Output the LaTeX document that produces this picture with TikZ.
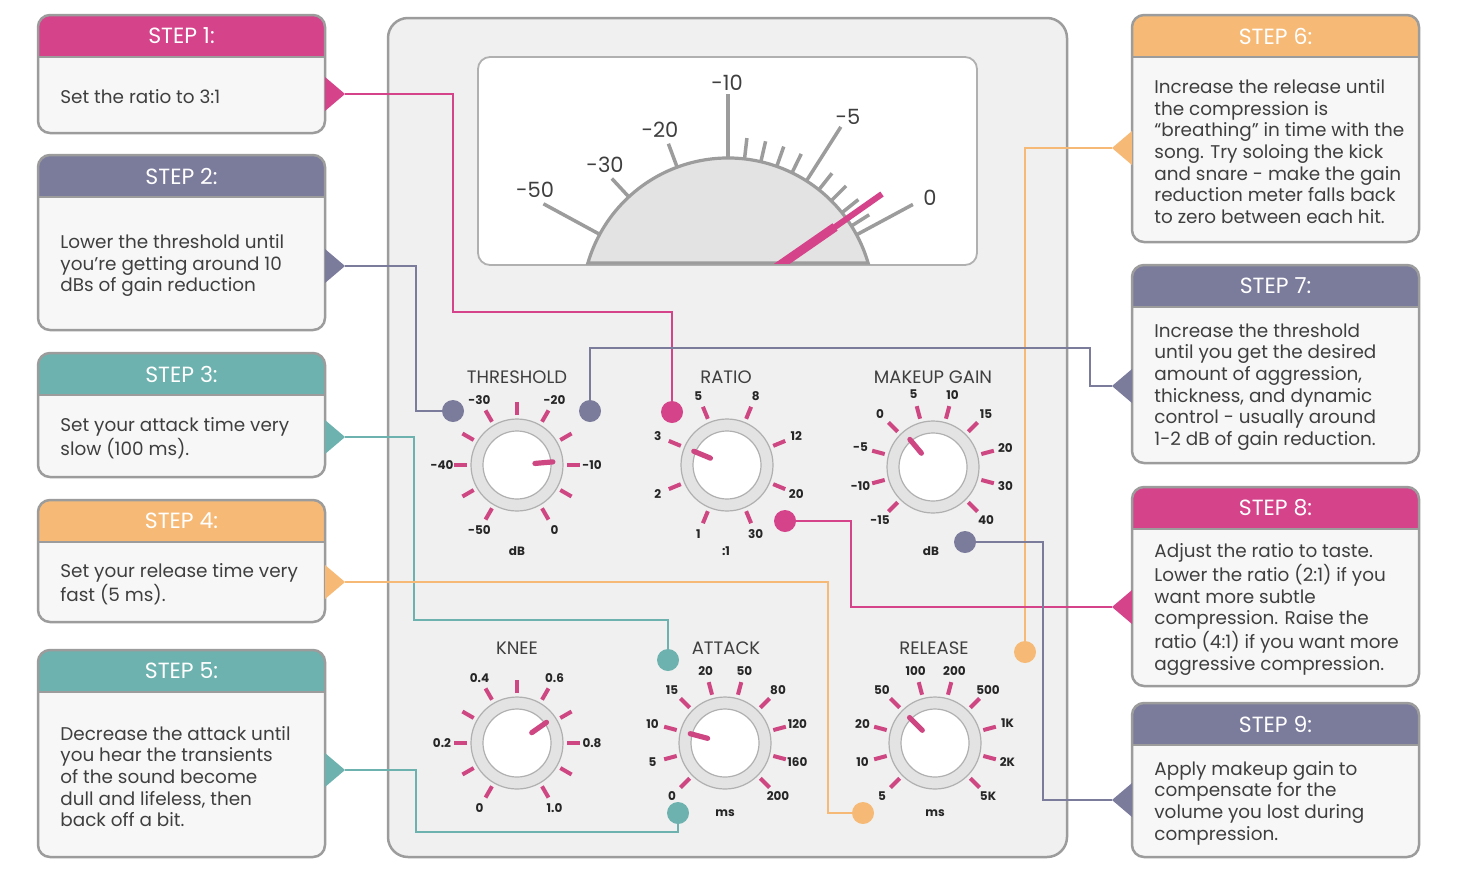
\documentclass[tikz,border=0pt]{standalone}
\usepackage{fontspec}
\setmainfont{Poppins}

\definecolor{stepPink}{HTML}{D5438B}
\definecolor{stepSlate}{HTML}{7B7B9C}
\definecolor{stepTeal}{HTML}{6DB2AE}
\definecolor{stepOrange}{HTML}{F6BA76}
\definecolor{frameGrey}{HTML}{9C9C9C}
\definecolor{panelGrey}{HTML}{F0F0F0}
\definecolor{cardFill}{HTML}{F7F7F7}
\definecolor{inkGrey}{HTML}{3F3F3F}
\definecolor{ringGrey}{HTML}{E3E3E3}
\definecolor{tickPink}{HTML}{CE4682}

% step card: name, left x, top y, bottom y, colour, number, text
\newcommand\stepcard[7]{%
	\fill[cardFill, rounded corners=6pt] (#2,#3) rectangle ({#2+287},#4);
	\begin{scope}
		\clip (#2,#3) rectangle ({#2+287},{#3+42});
		\fill[#5, rounded corners=6pt] (#2,#3) rectangle ({#2+287},#4);
	\end{scope}
	\draw[frameGrey, line width=1.1pt] (#2,{#3+42}) -- ({#2+287},{#3+42});
	\draw[frameGrey, line width=1.25pt, rounded corners=6pt] (#2,#3) rectangle ({#2+287},#4);
	\node[steptitle] at ({#2+143.5},{#3+21}) {STEP #6:};
	\node[steptext] (#1) at ({#2+22},{(#3+42+#4)/2+2}) {#7};
}

% knob: name, x, y, first angle, angle step, labels, hand angle
\newcommand\knob[7]{%
	\begin{scope}[shift={(#2,#3)}, y=0.5pt]
		\coordinate (#1) at (0,0);
		\foreach \lab [count=\i from 0] in {#6} {
			\pgfmathsetmacro\ang{#4-\i*#5}
			\draw[knobtick] (\ang:50) -- (\ang:63);
			\node[knobnum] at (\ang:75) {\lab};
		}
		\draw[frameGrey!80, fill=ringGrey, line width=0.6pt] (0,0) circle[radius=46];
		\draw[frameGrey!80, fill=white, line width=0.6pt] (0,0) circle[radius=34];
		\draw[knobhand] (#7:18) -- (#7:36);
	\end{scope}
}

\begin{document}
\begin{tikzpicture}[x=0.5pt, y=-0.5pt,
	steptitle/.style={font=\fontsize{11}{13}\selectfont, text=white},
	steptext/.style={anchor=west, align=left, inner sep=0pt, text=inkGrey, font=\fontsize{9.2}{10.85}\selectfont},
	wire/.style={line width=1.25pt},
	plug/.style={circle, fill=#1, inner sep=0pt, minimum size=11pt},
	knobtick/.style={tickPink, line width=2pt},
	knobnum/.style={font=\fontsize{6}{7}\selectfont\bfseries, text=black!85},
	knobhand/.style={tickPink, line width=2.6pt, line cap=round},
	knobtitle/.style={font=\fontsize{9}{11}\selectfont, text=inkGrey},
	metertick/.style={frameGrey, line width=1.75pt},
	meternum/.style={font=\fontsize{10.5}{12}\selectfont, text=inkGrey}]

	\fill[white] (0,0) rectangle (1460,873);
	\useasboundingbox (0,0) rectangle (1460,873);

	%panel
	\draw[frameGrey, fill=panelGrey, line width=1.25pt, rounded corners=10pt] (388,18) rectangle (1067,857);

	%meter
	\draw[frameGrey!80, fill=white, line width=0.9pt, rounded corners=6pt] (478,57) rectangle (977,265);
	\begin{scope}[shift={(728,304)}, y=0.5pt]
		\fill[ringGrey] (16.3:146) arc[start angle=16.3, end angle=163.7, radius=146] -- cycle;
		\foreach \a in {151.5,90,57.5,28.3}
			\draw[metertick] (\a:146) -- (\a:210);
		\foreach \a in {132.8,110.4}
			\draw[metertick] (\a:146) -- (\a:171);
		\foreach \a in {83.5,77,70.5,64,51.5,45,38.7,32.3}
			\draw[metertick] (\a:146) -- (\a:167);
		\draw[frameGrey, line width=1.6pt] (16.3:146) arc[start angle=16.3, end angle=163.7, radius=146] -- cycle;
	\end{scope}
	\begin{scope}
		\clip (478,57) rectangle (977,263);
		\draw[stepPink, line width=4.5pt] (776.4,267.6) -- (835,227);
		\draw[stepPink, line width=3pt] (834,227.7) -- (882,194);
	\end{scope}
	\node[meternum] at (535,190) {-50};
	\node[meternum] at (605,165) {-30};
	\node[meternum] at (660,130) {-20};
	\node[meternum] at (727,83) {-10};
	\node[meternum] at (848,117) {-5};
	\node[meternum] at (930,198) {0};

	%knobs
	\knob{thr}{517}{465}{240}{30}{-50,,-40,,-30,,-20,,-10,,0}{5}
	\knob{rat}{727}{465}{247.5}{45}{1,2,3,5,8,12,20,30}{157.5}
	\knob{mkg}{933}{467}{225}{30}{-15,-10,-5,0,5,10,15,20,30,40}{130}
	\knob{kne}{517}{743}{240}{30}{0,,0.2,,0.4,,0.6,,0.8,,1.0}{35}
	\knob{att}{725}{743}{225}{30}{0,5,10,15,20,50,80,120,160,200}{165}
	\knob{rel}{935}{743}{225}{30}{5,10,20,50,100,200,500,1K,2K,5K}{135}

	\node[knobtitle] at (517,377) {THRESHOLD};
	\node[knobtitle] at (726,377) {RATIO};
	\node[knobtitle] at (933,377) {MAKEUP GAIN};
	\node[knobtitle] at (517,648) {KNEE};
	\node[knobtitle] at (726,648) {ATTACK};
	\node[knobtitle] at (934,648) {RELEASE};
	\node[knobnum] at (517,551) {dB};
	\node[knobnum] at (726,551) {:1};
	\node[knobnum] at (931,551) {dB};
	\node[knobnum] at (725,813) {ms};
	\node[knobnum] at (935,813) {ms};

	%steps
	\stepcard{s1}{38}{15}{133}{stepPink}{1}{Set the ratio to 3:1}
	\stepcard{s2}{38}{155}{330}{stepSlate}{2}{Lower the threshold until\\you're getting around 10\\dBs of gain reduction}
	\stepcard{s3}{38}{353}{477}{stepTeal}{3}{Set your attack time very\\slow (100 ms).}
	\stepcard{s4}{38}{500}{622}{stepOrange}{4}{Set your release time very\\fast (5 ms).}
	\stepcard{s5}{38}{650}{857}{stepTeal}{5}{Decrease the attack until\\you hear the transients\\of the sound become\\dull and lifeless, then\\back off a bit.}
	\stepcard{s6}{1132}{15}{242}{stepOrange}{6}{Increase the release until\\the compression is\\“breathing” in time with the\\song. Try soloing the kick\\and snare - make the gain\\reduction meter falls back\\to zero between each hit.}
	\stepcard{s7}{1132}{265}{463}{stepSlate}{7}{Increase the threshold\\until you get the desired\\amount of aggression,\\thickness, and dynamic\\control - usually around\\1-2 dB of gain reduction.}
	\stepcard{s8}{1132}{487}{686}{stepPink}{8}{Adjust the ratio to taste.\\Lower the ratio (2:1) if you\\want more subtle\\compression. Raise the\\ratio (4:1) if you want more\\aggressive compression.}
	\stepcard{s9}{1132}{703}{857}{stepSlate}{9}{Apply makeup gain to\\compensate for the\\volume you lost during\\compression.}

	%pointers
	\foreach \n/\y/\c in {1/94/stepPink, 2/266/stepSlate, 3/437/stepTeal, 4/582/stepOrange, 5/770/stepTeal} {
		\fill[\c] (325,{\y-17}) -- (345,\y) -- (325,{\y+17}) -- cycle;
		\coordinate (p\n) at (345,\y);
	}
	\foreach \n/\y/\c in {6/148/stepOrange, 7/386/stepSlate, 8/607/stepPink, 9/800/stepSlate} {
		\fill[\c] (1132,{\y-17}) -- (1112,\y) -- (1132,{\y+17}) -- cycle;
		\coordinate (p\n) at (1112,\y);
	}

	%plugs
	\node[plug=stepPink] (d1) at (672,412) {};
	\node[plug=stepSlate] (d2) at (453,411) {};
	\node[plug=stepTeal] (d3) at (668,660) {};
	\node[plug=stepOrange] (d4) at (863,813) {};
	\node[plug=stepTeal] (d5) at (678,813) {};
	\node[plug=stepOrange] (d6) at (1025,652) {};
	\node[plug=stepSlate] (d7) at (590,411) {};
	\node[plug=stepPink] (d8) at (785,521) {};
	\node[plug=stepSlate] (d9) at (965,542) {};

	%wires
	\draw[wire, stepPink] (p1) -| (453,312) -| (d1);
	\draw[wire, stepSlate] (p2) -| (416,411) -- (d2);
	\draw[wire, stepTeal] (p3) -| (414,620) -| (d3);
	\draw[wire, stepOrange] (p4) -| (828,813) -- (d4);
	\draw[wire, stepTeal] (p5) -| (416,832) -| (d5);
	\draw[wire, stepOrange] (p6) -| (d6);
	\draw[wire, stepSlate] (p7) -| (1090,348) -| (d7);
	\draw[wire, stepPink] (p8) -| (851,521) -- (d8);
	\draw[wire, stepSlate] (p9) -| (1043,542) -- (d9);
\end{tikzpicture}
\end{document}
